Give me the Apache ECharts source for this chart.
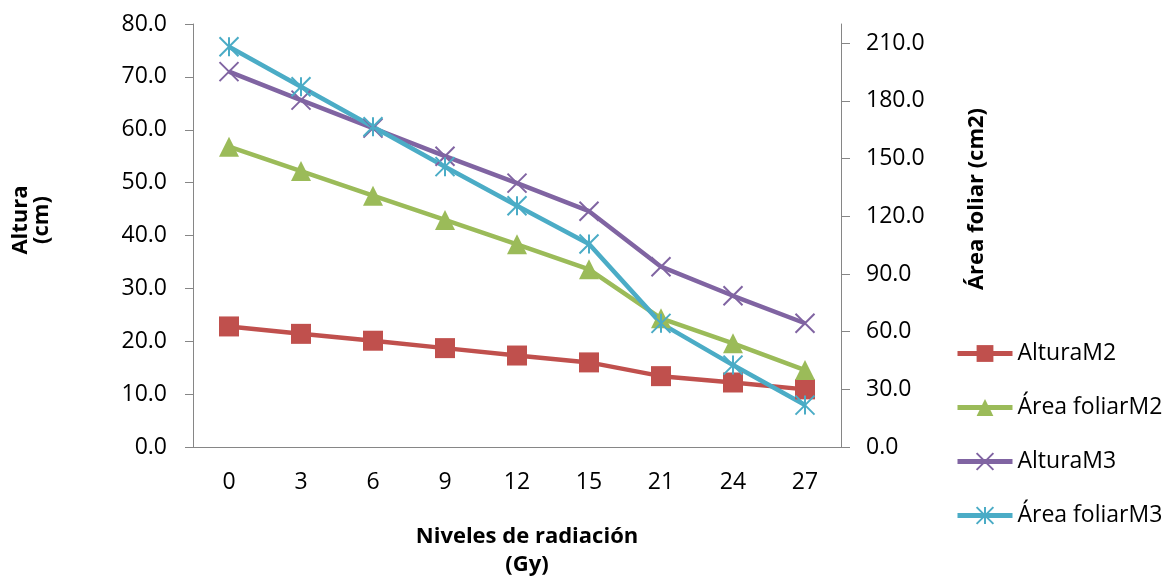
<!DOCTYPE html>
<html>
<head>
<meta charset="utf-8">
<script src="https://cdn.jsdelivr.net/npm/echarts@6/dist/echarts.min.js"></script>
<style>html,body{margin:0;padding:0;background:#fff}#c{width:1169px;height:583px}</style>
</head>
<body>
<div id="c"></div>
<script>
var categories = ['0', '3', '6', '9', '12', '15', '21', '24', '27'];
var alturaM2 = [22.8, 21.4, 20.1, 18.7, 17.3, 16.0, 13.4, 12.2, 10.9];
var areaFoliarM2 = [156.2, 143.5, 130.7, 118.1, 105.4, 92.4, 66.9, 53.9, 40.0];
var alturaM3 = [71.0, 65.6, 60.3, 55.0, 49.9, 44.6, 34.1, 28.6, 23.4];
var areaFoliarM3 = [208.2, 187.4, 166.6, 145.8, 125.5, 105.6, 64.3, 42.6, 21.8];
var rightTicks = [0, 30, 60, 90, 120, 150, 180, 210];

var FONT = 'Open Sans';
var axisGray = '#868686';
var chart = echarts.init(document.getElementById('c'));

var xPath = 'path://M0,0L10,10M10,0L0,10';
var starPath = 'path://M0,0L10,10M10,0L0,10M5,0L5,10';

function lineSeries(name, data, color, yIdx, symbol, size, stroke) {
  return {
    name: name, type: 'line', data: data, yAxisIndex: yIdx,
    symbol: symbol, symbolSize: size, showSymbol: true,
    lineStyle: {color: color, width: 4.5},
    itemStyle: stroke ? {color: color, borderColor: color, borderWidth: 2} : {color: color},
    emphasis: {disabled: true},
    animation: false
  };
}

chart.setOption({
  backgroundColor: '#fff',
  animation: false,
  textStyle: {fontFamily: FONT},
  grid: {left: 193, right: 328, top: 24, bottom: 136},
  legend: {
    orient: 'vertical', left: 950, top: 337,
    itemWidth: 55, itemHeight: 21, itemGap: 31,
    textStyle: {fontFamily: FONT, fontSize: 23, color: '#000'},
    lineStyle: {width: 5},
    data: ['AlturaM2', 'Área foliarM2', 'AlturaM3', 'Área foliarM3']
  },
  xAxis: {
    type: 'category', data: categories, boundaryGap: true,
    axisLine: {lineStyle: {color: axisGray, width: 1}},
    axisTick: {show: false},
    axisLabel: {fontFamily: FONT, fontSize: 23, color: '#000', margin: 24}
  },
  yAxis: [{
    type: 'value', min: 0, max: 80, interval: 10, position: 'left',
    axisLine: {show: true, lineStyle: {color: axisGray, width: 1}},
    axisTick: {show: true, length: 8, lineStyle: {color: axisGray}},
    splitLine: {show: false},
    axisLabel: {fontFamily: FONT, fontSize: 23, color: '#000', margin: 26,
      formatter: function (v) { return v.toFixed(1); }}
  }, {
    type: 'value', min: 0, max: 220, interval: 30, position: 'right',
    axisLine: {show: true, lineStyle: {color: axisGray, width: 1}},
    axisTick: {show: true, length: 9, lineStyle: {color: axisGray}, customValues: rightTicks},
    splitLine: {show: false},
    axisLabel: {fontFamily: FONT, fontSize: 23, color: '#000', margin: 25, customValues: rightTicks,
      formatter: function (v) { return v > 215 ? '' : v.toFixed(1); }}
  }],
  graphic: [{
    type: 'text', x: 31, y: 220, rotation: Math.PI / 2,
    style: {text: 'Altura\n(cm)', font: 'bold 22px "Open Sans"', fill: '#000',
      textAlign: 'center', textVerticalAlign: 'middle', lineHeight: 21}
  }, {
    type: 'text', x: 977, y: 199, rotation: Math.PI / 2,
    style: {text: 'Área foliar (cm2)', font: 'bold 22px "Open Sans"', fill: '#000',
      textAlign: 'center', textVerticalAlign: 'middle'}
  }, {
    type: 'text', x: 527, y: 551,
    style: {text: 'Niveles de radiación\n(Gy)', font: 'bold 22px "Open Sans"', fill: '#000',
      textAlign: 'center', textVerticalAlign: 'middle', lineHeight: 28}
  }],
  series: [
    lineSeries('AlturaM2', alturaM2, '#C0504D', 0, 'rect', 20, false),
    lineSeries('Área foliarM2', areaFoliarM2, '#9BBB59', 1, 'triangle', 20, false),
    lineSeries('AlturaM3', alturaM3, '#8064A2', 0, xPath, 19, true),
    lineSeries('Área foliarM3', areaFoliarM3, '#4BACC6', 1, starPath, 19, true)
  ]
});
</script>
</body>
</html>
